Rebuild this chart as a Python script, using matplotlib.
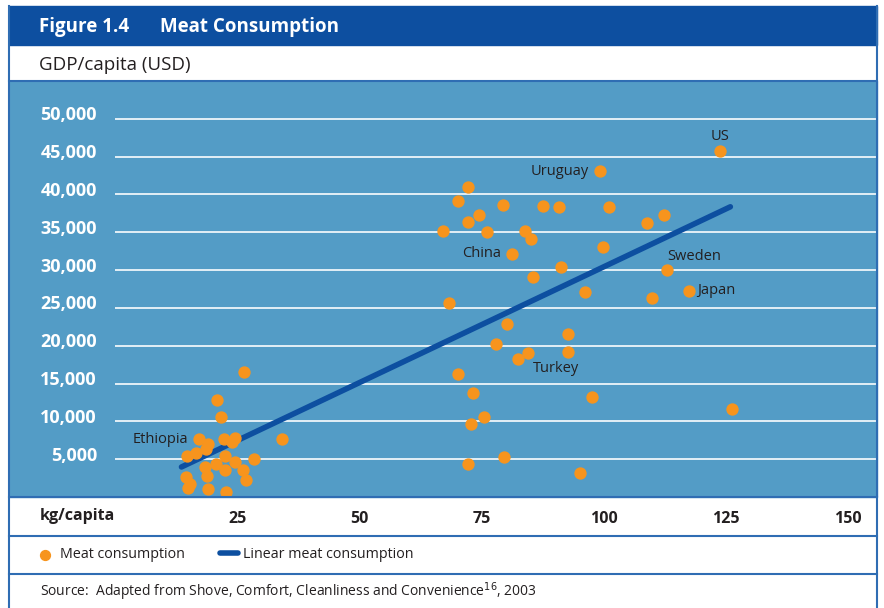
import matplotlib
matplotlib.use("Agg")
import matplotlib.pyplot as plt
import matplotlib.transforms as mtransforms
from matplotlib.patches import Rectangle
from matplotlib.lines import Line2D

plt.rcParams["font.family"] = ["Open Sans", "DejaVu Sans"]

# kg/capita meat consumption vs GDP/capita (USD)
meat_kg = [26.4, 20.9, 21.6, 17.2, 19.1, 18.6, 22.3, 24.5, 23.9, 34.2,
           14.8, 16.5, 22.5, 28.4, 18.5, 20.7, 24.5, 22.6, 26.2, 18.9,
           26.8, 14.5, 15.3, 14.9, 19.1, 22.8,
           99.3, 72.3, 70.2, 79.3, 87.6, 90.8, 101.0, 74.5, 72.3, 108.8,
           67.2, 76.2, 83.9, 85.2, 81.2, 99.8, 91.2, 85.5, 96.1, 68.3,
           109.8, 123.8, 112.3, 113.0, 117.5, 80.3, 92.7, 78.0, 92.6, 84.5,
           82.4, 70.1, 73.3, 97.6, 126.3, 75.5, 72.9, 79.6, 72.3, 95.1]
gdp_usd = [16580, 12790, 10540, 7630, 6970, 6390, 7710, 7850, 7320, 7670,
           5460, 5780, 5380, 5070, 4010, 4400, 4630, 3530, 3530, 2780,
           2250, 2600, 1720, 1190, 1020, 700,
           43040, 41050, 39200, 38670, 38410, 38320, 38320, 37220, 36380, 36210,
           35190, 35060, 35190, 34090, 32150, 33110, 30390, 29070, 27120, 25710,
           26330, 45740, 37270, 30030, 27290, 22850, 21610, 20200, 19220, 19010,
           18260, 16230, 13800, 13230, 11600, 10580, 9610, 5250, 4370, 3130]

trend_x = [13.6, 125.9]
trend_y = [3970, 38370]

countries = ["US", "Uruguay", "China", "Sweden", "Japan", "Turkey", "Ethiopia"]
country_xy = [(123.8, 45740), (99.3, 43040), (81.2, 32150), (113.0, 30030),
              (117.5, 27290), (92.6, 19220), (17.2, 7630)]

y_ticks = [5000, 10000, 15000, 20000, 25000, 30000, 35000, 40000, 45000, 50000]
x_ticks = [25, 50, 75, 100, 125, 150]

W, H = 884, 608
dark_blue = "#0d4fa0"
panel_blue = "#539cc6"
line_blue = "#2f6db3"
orange = "#f7941d"
txt = "#231f20"


def fx(px):
    return px / W


def fy(py):
    return 1 - py / H


fig = plt.figure(figsize=(W / 100, H / 100), dpi=100)

# bands
fig.patches.append(Rectangle((fx(9), fy(45)), fx(877) - fx(9), fy(6) - fy(45),
                             transform=fig.transFigure, color=dark_blue, zorder=-2))
fig.patches.append(Rectangle((fx(9), fy(497)), fx(877) - fx(9), fy(81) - fy(497),
                             transform=fig.transFigure, color=panel_blue, zorder=-2))
for yy in [81, 497, 536, 574]:
    fig.lines.append(Line2D([fx(9), fx(877)], [fy(yy), fy(yy)], transform=fig.transFigure,
                            color=line_blue, lw=1.5, zorder=5))
for xx in [9, 877]:
    fig.lines.append(Line2D([fx(xx), fx(xx)], [fy(6), fy(608)], transform=fig.transFigure,
                            color=line_blue, lw=1.5, zorder=5))

fig.text(fx(39), fy(27), "Figure 1.4", color="white", fontsize=13.5, fontweight="bold", va="center")
fig.text(fx(160), fy(27), "Meat Consumption", color="white", fontsize=13.5, fontweight="bold", va="center")
fig.text(fx(39), fy(65), "GDP/capita (USD)", color=txt, fontsize=13.5, va="center")

ax = fig.add_axes([fx(115), fy(497), fx(877) - fx(115), fy(81) - fy(497)])
ax.set_zorder(1)
ax.patch.set_alpha(0)
ax.set_xlim(0, 155.9)
ax.set_ylim(0, 55000)

ax.set_yticks(y_ticks)
ax.set_yticklabels([f"{v:,}" for v in y_ticks])
ax.set_xticks(x_ticks)
ax.set_xticklabels([str(v) for v in x_ticks])
ax.grid(axis="y", color="white", lw=1.3, alpha=0.9)
ax.set_axisbelow(True)
ax.tick_params(axis="y", length=0, pad=13, labelcolor="white", labelsize=13)
ax.tick_params(axis="x", length=0, pad=10, labelcolor=txt, labelsize=11.5)
# y labels sit a little above their gridline
lift = mtransforms.ScaledTranslation(0, 0.055, fig.dpi_scale_trans)
for lab in ax.get_yticklabels():
    lab.set_fontweight("bold")
    lab.set_transform(lab.get_transform() + lift)
for lab in ax.get_xticklabels():
    lab.set_fontweight("bold")
for s in ax.spines.values():
    s.set_visible(False)

ax.scatter(meat_kg, gdp_usd, s=62, color=orange, zorder=3, label="Meat consumption")
ax.plot(trend_x, trend_y, color=dark_blue, lw=4, solid_capstyle="round", zorder=2,
        label="Linear meat consumption")

offsets = {"US": (0, 5, "center", "bottom"), "Uruguay": (-8, 0, "right", "center"),
           "China": (-8, 0, "right", "center"), "Sweden": (0, 4, "left", "bottom"),
           "Japan": (6, 0, "left", "center"), "Turkey": (-25, -7, "left", "top"),
           "Ethiopia": (-8, 0, "right", "center")}
for name, (cx, cy) in zip(countries, country_xy):
    dx, dy, ha, va = offsets[name]
    ax.annotate(name, (cx, cy), xytext=(dx, dy), textcoords="offset points",
                ha=ha, va=va, fontsize=10.5, color=txt, zorder=4)

fig.text(fx(40), fy(516), "kg/capita", color=txt, fontsize=11.5, fontweight="bold", va="center")

handles, labels = ax.get_legend_handles_labels()
fig.legend(handles, labels, loc="center left", bbox_to_anchor=(fx(24), fy(555)),
           frameon=False, ncol=2, fontsize=10.3, handlelength=1.2, handletextpad=0.4,
           columnspacing=2.5, labelcolor=txt, markerscale=0.9)

fig.text(fx(40), fy(592), "Source:  Adapted from Shove, Comfort, Cleanliness and Convenience$^{16}$, 2003",
         color=txt, fontsize=10, va="center")

fig.savefig("out.png", dpi=100)
